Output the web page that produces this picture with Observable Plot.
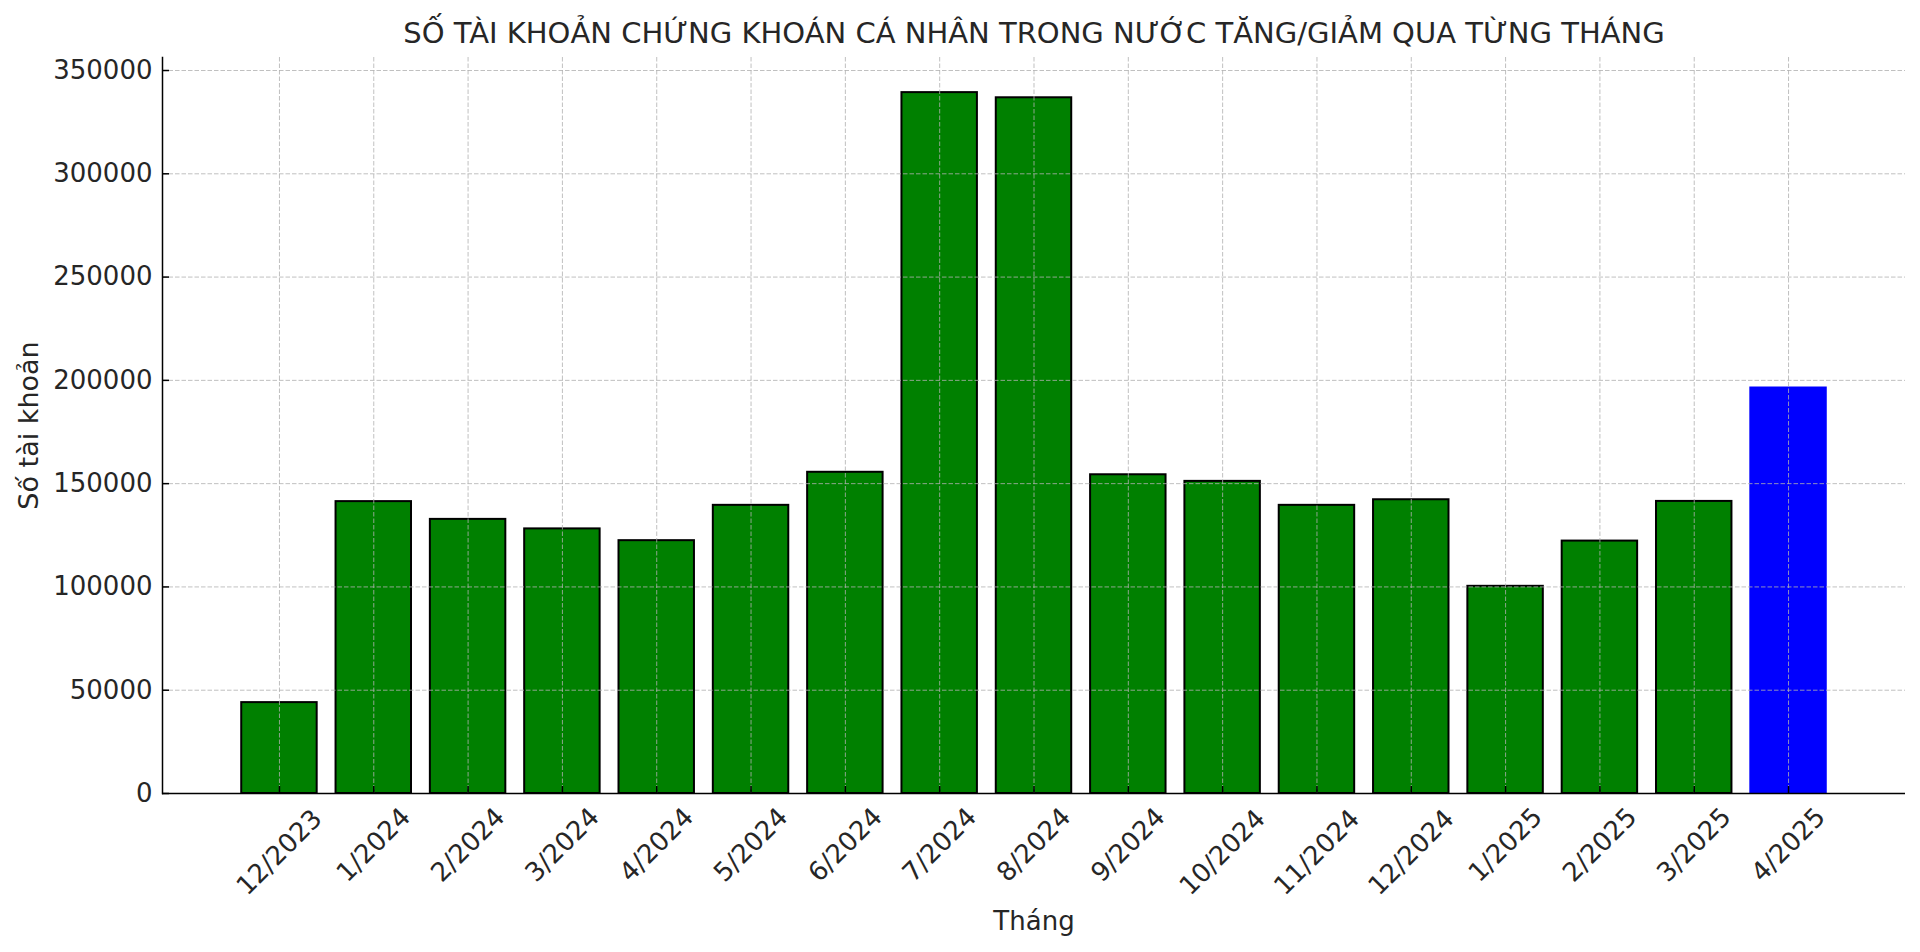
<!DOCTYPE html>
<html>
<head>
<meta charset="utf-8">
<script src="https://cdn.jsdelivr.net/npm/d3@7"></script>
<script src="https://cdn.jsdelivr.net/npm/@observablehq/plot@0.6"></script>
<style>
  html, body { margin: 0; padding: 0; background: #fff; }
  #chart svg { display: block; }
</style>
</head>
<body>
<div id="chart"></div>
<script>
const months = ["12/2023","1/2024","2/2024","3/2024","4/2024","5/2024","6/2024","7/2024","8/2024","9/2024","10/2024","11/2024","12/2024","1/2025","2/2025","3/2025","4/2025"];
const values = [44000, 141300, 132700, 128100, 122400, 139500, 155500, 339300, 336800, 154300, 151100, 139500, 142200, 100300, 122200, 141400, 196300];
const highlightMonth = "4/2025";
const yTicks = [0, 50000, 100000, 150000, 200000, 250000, 300000, 350000];
const titleText = "SỐ TÀI KHOẢN CHỨNG KHOÁN CÁ NHÂN TRONG NƯỚC TĂNG/GIẢM QUA TỪNG THÁNG";
const xLabel = "Tháng";
const yLabel = "Số tài khoản";

const data = months.map((m, i) => ({month: m, value: values[i]}));
const longLabels = months.filter(m => m.length > 6);
const shortLabels = months.filter(m => m.length <= 6);

const textColor = "#262626";
const gridStyle = {stroke: "#b0b0b0", strokeOpacity: 0.8, strokeWidth: 1, strokeDasharray: "4.5,2"};

const chart = Plot.plot({
  width: 1920,
  height: 952,
  marginLeft: 162,
  marginRight: 15,
  marginTop: 57,
  marginBottom: 159,
  style: {fontFamily: "'DejaVu Sans', sans-serif", fontSize: "26px", color: textColor, background: "#fff"},
  x: {type: "band", domain: months, paddingInner: 0.2, paddingOuter: 0.84, round: false, label: null},
  y: {domain: [0, 356300], label: null},
  marks: [
    Plot.barY(data, {
      x: "month", y: "value",
      fill: d => d.month === highlightMonth ? "blue" : "green",
      stroke: d => d.month === highlightMonth ? "blue" : "black",
      strokeWidth: 2
    }),
    Plot.gridX({...gridStyle}),
    Plot.gridY(yTicks, {...gridStyle}),
    Plot.axisY(yTicks, {tickSize: -7, tickPadding: 17, tickFormat: d => String(d), strokeWidth: 1.5, stroke: "#000", fill: textColor, fontSize: 26, label: null}),
    Plot.axisX({tickSize: -7, strokeWidth: 1.5, stroke: "#000", tickFormat: () => "", label: null}),
    Plot.axisX(longLabels, {tickSize: 0, tickPadding: 0, dy: 59, tickRotate: -45, textAnchor: "middle", lineAnchor: "middle", fill: textColor, fontSize: 26, label: null}),
    Plot.axisX(shortLabels, {tickSize: 0, tickPadding: 0, dy: 51.5, tickRotate: -45, textAnchor: "middle", lineAnchor: "middle", fill: textColor, fontSize: 26, label: null}),
    Plot.ruleY([0], {stroke: "#000", strokeWidth: 1.5}),
    Plot.frame({anchor: "left", stroke: "#000", strokeWidth: 1.5}),
    Plot.text([titleText], {frameAnchor: "top", dy: -23.3, fontSize: 29, fill: textColor, lineAnchor: "middle", textAnchor: "middle"}),
    Plot.text([xLabel], {frameAnchor: "bottom", dy: 128, fontSize: 26, fill: textColor, lineAnchor: "middle", textAnchor: "middle"}),
    Plot.text([yLabel], {frameAnchor: "left", dx: -133, rotate: -90, fontSize: 27, fill: textColor, lineAnchor: "middle", textAnchor: "middle"})
  ]
});
document.getElementById("chart").appendChild(chart);
</script>
</body>
</html>
